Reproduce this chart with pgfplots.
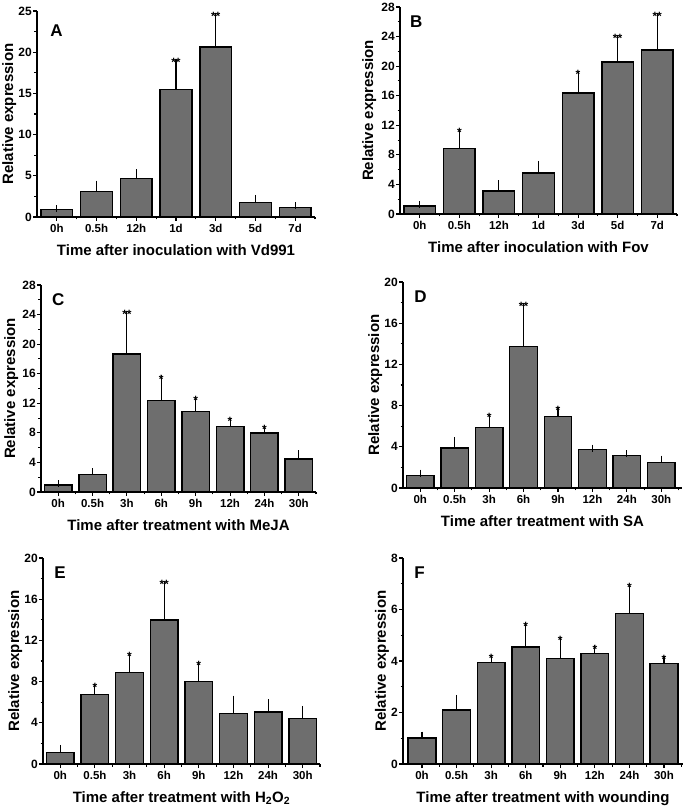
\documentclass[border=0pt]{standalone}
\usepackage{fontspec}
\setmainfont{Liberation Sans}
\usepackage{pgfplots}
\usepackage{pgfplotstable}
\pgfplotsset{compat=1.18}
\definecolor{barfill}{RGB}{110,110,110}

\pgfplotstableread{
x y e
0 0.89 0.11
1 3.07 0.92
2 4.70 0.70
3 15.50 3.28
4 20.62 3.75
5 1.74 0.52
6 1.17 0.18
}\dataA
\pgfplotstableread{
x y e
0 1.09 0.13
1 8.87 2.17
2 3.12 0.95
3 5.52 1.18
4 16.38 2.49
5 20.54 3.21
6 22.20 4.50
}\dataB
\pgfplotstableread{
x y e
0 0.95 0.14
1 2.40 0.36
2 18.69 5.38
3 12.40 2.89
4 10.86 1.49
5 8.82 0.73
6 7.96 0.59
7 4.48 0.72
}\dataC
\pgfplotstableread{
x y e
0 1.23 0.22
1 3.90 0.71
2 5.87 1.00
3 13.74 3.91
4 6.97 0.55
5 3.74 0.13
6 3.13 0.19
7 2.48 0.32
}\dataD
\pgfplotstableread{
x y e
0 1.10 0.42
1 6.76 0.65
2 8.90 1.55
3 13.98 3.43
4 8.03 1.52
5 4.92 1.39
6 5.05 0.90
7 4.40 0.91
}\dataE
\pgfplotstableread{
x y e
0 1.01 0.11
1 2.09 0.46
2 3.95 0.15
3 4.55 0.82
4 4.10 0.69
5 4.28 0.19
6 5.85 1.02
7 3.91 0.15
}\dataF

\pgfplotsset{
  panel/.style={
    scale only axis,
    anchor=south west,
    ybar, bar width=0.8,
    ymin=0,
    axis lines=left,
    axis line style={-, line width=1.4pt},
    tick align=outside,
    tick pos=left,
    major tick length=4pt,
    minor tick length=2.5pt,
    every tick/.style={black, line width=1.1pt},
    minor y tick num=1,
    xtick=data,
    /pgf/number format/assume math mode=true,
    xticklabel style={font=\fontsize{11.5}{12}\selectfont\bfseries, inner sep=3pt},
    yticklabel style={font=\fontsize{12}{13}\selectfont\bfseries, inner sep=1pt},
    label style={font=\fontsize{15}{18}\selectfont\bfseries},
    ylabel style={inner sep=0pt},
    ylabel shift=1pt,
    xlabel shift=5pt,
    ylabel={Relative expression},
    enlargelimits=false,
    clip=false,
  },
  bars/.style={fill=barfill, draw=black, line width=1.4pt,
    error bars/.cd, y dir=plus, y explicit,
    error bar style={line width=1.1pt, black},
    error mark options={line width=1.1pt, mark size=3.5pt, black}},
}
\tikzset{
  sigstar/.style={anchor=south, inner sep=0pt, font=\fontsize{12}{12}\selectfont\bfseries, yshift=-4.5pt},
  letter/.style={anchor=north west, inner sep=0pt, font=\fontsize{17}{17}\selectfont\bfseries},
}

\begin{document}
\begin{tikzpicture}
\useasboundingbox (0,0) rectangle (685pt,807pt);

% A
\begin{axis}[panel, at={(37pt,590pt)}, width=278pt, height=206pt,
  xmin=-0.5, xmax=6.5, ymax=25, ytick={0,5,...,25},
  minor xtick={0.5,1.5,...,6.5},
  xticklabels={0h,0.5h,12h,1d,3d,5d,7d},
  xlabel={Time after inoculation with Vd991}]
\addplot[bars] table[x=x,y=y,y error=e]{\dataA};
\node[sigstar] at (axis cs:3,18.78) {**};
\node[sigstar] at (axis cs:4,24.37) {**};
\node[letter] at (rel axis cs:0.047,0.935) {A};
\end{axis}

% B
\begin{axis}[panel, at={(400pt,593pt)}, width=277pt, height=207pt,
  xmin=-0.5, xmax=6.5, ymax=28, ytick={0,4,...,28},
  minor xtick={0.5,1.5,...,6.5},
  xticklabels={0h,0.5h,12h,1d,3d,5d,7d},
  ylabel shift=4pt,
  xlabel={Time after inoculation with Fov}]
\addplot[bars] table[x=x,y=y,y error=e]{\dataB};
\node[sigstar] at (axis cs:1,11.04) {*};
\node[sigstar] at (axis cs:4,18.87) {*};
\node[sigstar] at (axis cs:5,23.75) {**};
\node[sigstar] at (axis cs:6,26.70) {**};
\node[letter] at (rel axis cs:0.036,0.96) {B};
\end{axis}

% C
\begin{axis}[panel, at={(41pt,315pt)}, width=275pt, height=207pt,
  xmin=-0.5, xmax=7.5, ymax=28, ytick={0,4,...,28},
  minor xtick={0.5,1.5,...,7.5},
  xticklabels={0h,0.5h,3h,6h,9h,12h,24h,30h},
  ylabel shift=3pt,
  xlabel={Time after treatment with MeJA}]
\addplot[bars] table[x=x,y=y,y error=e]{\dataC};
\node[sigstar] at (axis cs:2,24.07) {**};
\node[sigstar] at (axis cs:3,15.29) {*};
\node[sigstar] at (axis cs:4,12.35) {*};
\node[sigstar] at (axis cs:5,9.55) {*};
\node[sigstar] at (axis cs:6,8.55) {*};
\node[letter] at (rel axis cs:0.04,0.96) {C};
\end{axis}

% D
\begin{axis}[panel, at={(403pt,319pt)}, width=279pt, height=206pt,
  xmin=-0.5, xmax=7.6, ymax=20, ytick={0,4,...,20},
  minor xtick={0.5,1.5,...,7.5},
  xticklabels={0h,0.5h,3h,6h,9h,12h,24h,30h},
  xlabel={Time after treatment with SA}]
\addplot[bars] table[x=x,y=y,y error=e]{\dataD};
\node[sigstar] at (axis cs:2,6.87) {*};
\node[sigstar] at (axis cs:3,17.65) {**};
\node[sigstar] at (axis cs:4,7.52) {*};
\node[letter] at (rel axis cs:0.04,0.96) {D};
\end{axis}

% E
\begin{axis}[panel, at={(43pt,43pt)}, width=277pt, height=206pt,
  xmin=-0.5, xmax=7.5, ymax=20, ytick={0,4,...,20},
  minor xtick={0.5,1.5,...,7.5},
  xticklabels={0h,0.5h,3h,6h,9h,12h,24h,30h},
  xlabel={Time after treatment with H\textsubscript{2}O\textsubscript{2}}]
\addplot[bars] table[x=x,y=y,y error=e]{\dataE};
\node[sigstar] at (axis cs:1,7.41) {*};
\node[sigstar] at (axis cs:2,10.45) {*};
\node[sigstar] at (axis cs:3,17.41) {**};
\node[sigstar] at (axis cs:4,9.55) {*};
\node[letter] at (rel axis cs:0.04,0.96) {E};
\end{axis}

% F
\begin{axis}[panel, at={(403pt,43pt)}, width=280pt, height=206pt,
  xmin=-0.55, xmax=7.55, ymax=8, ytick={0,2,...,8},
  minor xtick={0.5,1.5,...,7.5},
  xticklabels={0h,0.5h,3h,6h,9h,12h,24h,30h},
  xlabel={Time after treatment with wounding}]
\addplot[bars] table[x=x,y=y,y error=e]{\dataF};
\node[sigstar] at (axis cs:2,4.10) {*};
\node[sigstar] at (axis cs:3,5.37) {*};
\node[sigstar] at (axis cs:4,4.79) {*};
\node[sigstar] at (axis cs:5,4.47) {*};
\node[sigstar] at (axis cs:6,6.87) {*};
\node[sigstar] at (axis cs:7,4.06) {*};
\node[letter] at (rel axis cs:0.04,0.96) {F};
\end{axis}
\end{tikzpicture}
\end{document}
